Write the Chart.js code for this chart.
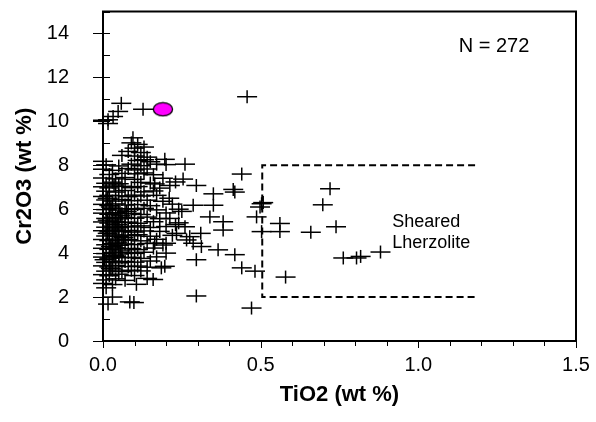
<!DOCTYPE html>
<html><head><meta charset="utf-8">
<script src="https://cdn.jsdelivr.net/npm/chart.js@4/dist/chart.umd.min.js"></script>
<style>html,body{margin:0;padding:0;background:#fff}#wrap{width:596px;height:422px}</style>
</head><body><div id="wrap"><canvas id="c" width="596" height="422"></canvas></div>
<script>
// ---- data (wt %) ----
const tio2 = [
0.058,0.127,0.457,0.048,0.032,0.016,0.000,0.016,0.095,0.260,
0.196,0.170,0.440,0.254,0.296,0.413,0.212,0.418,0.350,0.350,
0.286,0.503,0.498,0.487,0.561,0.561,0.503,0.381,0.381,0.339,
0.212,0.233,0.275,0.286,0.312,0.365,0.418,0.296,0.265,0.440,
0.482,0.579,0.296,0.471,0.085,0.098,0.016,0.106,0.159,0.196,
0.185,0.200,0.164,0.200,0.170,0.164,0.720,0.697,0.739,0.659,
0.762,0.804,0.817,0.880,0.508,0.240,0.260,0.230,0.310,0.210,
0.250,0.140,0.030,
0.09,0.11,0.10,0.13,0.12,0.08,0.10,0.14,0.06,
0.00,0.11,0.13,0.15,0.01,0.05,0.09,0.12,0.20,
0.00,0.03,0.08,0.10,0.14,0.02,0.06,0.11,0.16,0.13,
0.00,0.04,0.07,0.10,0.19,0.01,0.03,0.05,0.12,0.15,0.23,
0.00,0.02,0.06,0.09,0.11,0.18,0.01,0.04,0.07,0.13,0.16,
0.00,0.02,0.05,0.08,0.10,0.12,0.01,0.03,0.06,0.09,0.14,0.19,
0.00,0.02,0.04,0.07,0.11,0.15,0.22,0.01,0.03,0.05,0.08,0.10,0.13,0.17,
0.00,0.02,0.04,0.06,0.09,0.12,0.20,0.01,0.03,0.05,0.07,0.10,0.14,0.18,
0.00,0.02,0.04,0.06,0.08,0.11,0.16,0.24,0.01,0.03,0.05,0.07,0.09,0.12,0.15,0.20,
0.00,0.02,0.04,0.06,0.08,0.10,0.13,0.18,0.01,0.03,0.05,0.07,0.09,0.11,0.15,0.22,
0.00,0.02,0.04,0.06,0.08,0.12,0.17,0.01,0.03,0.05,0.07,0.10,0.14,0.19,
0.00,0.02,0.04,0.06,0.09,0.11,0.16,0.01,0.03,0.05,0.08,0.10,0.13,
0.00,0.02,0.04,0.06,0.09,0.12,0.17,0.01,0.03,0.05,0.07,0.10,0.15,
0.00,0.02,0.04,0.08,0.11,0.14,0.01,0.03,0.06,0.09,0.12,
0.00,0.02,0.05,0.10,0.01,0.04,0.07,0.00,0.03,0.01,
0.015,0.035,0.025,0.045,0.015,0.035,0.055,0.025,0.045,0.005,0.065,0.015,0.035,0.055,0.025,0.075
];
const cr2o3 = [
10.82,10.55,11.12,10.45,10.22,10.07,10.05,9.90,9.25,8.05,
8.27,8.05,7.60,7.37,7.08,6.90,7.08,6.78,6.70,6.18,
6.18,6.25,6.10,5.65,5.35,4.98,4.98,5.43,5.05,5.65,
5.58,4.90,4.75,4.45,4.30,4.15,3.93,3.70,4.60,3.33,
3.18,2.91,2.05,1.50,1.78,1.75,1.68,2.58,2.80,3.40,
3.33,4.00,4.45,4.45,6.63,7.15,6.93,6.20,5.20,4.95,
3.78,3.78,3.85,4.05,6.30,6.00,5.20,5.30,4.90,6.50,
5.90,2.85,2.00,
9.02,8.95,8.78,8.83,8.58,8.63,8.42,8.37,8.45,
8.18,8.22,8.25,8.16,8.02,7.97,8.05,7.98,8.03,
7.82,7.77,7.85,7.79,7.83,7.58,7.63,7.61,7.57,7.65,
7.42,7.38,7.44,7.36,7.41,7.18,7.23,7.16,7.22,7.19,7.24,
7.02,6.97,7.04,6.98,7.03,6.96,6.82,6.78,6.85,6.79,6.83,
6.58,6.63,6.61,6.57,6.64,6.60,6.42,6.37,6.44,6.39,6.41,6.36,
6.22,6.17,6.24,6.19,6.21,6.16,6.23,5.98,6.03,5.96,6.02,5.99,6.04,5.97,
5.82,5.77,5.84,5.79,5.81,5.76,5.83,5.58,5.63,5.56,5.62,5.59,5.64,5.57,
5.42,5.37,5.44,5.39,5.41,5.36,5.43,5.38,5.18,5.23,5.16,5.22,5.19,5.24,5.17,5.21,
5.02,4.97,5.04,4.98,5.03,4.96,5.01,4.99,4.78,4.83,4.76,4.82,4.79,4.84,4.77,4.81,
4.62,4.57,4.64,4.59,4.61,4.56,4.63,4.38,4.43,4.36,4.42,4.39,4.44,4.37,
4.22,4.17,4.24,4.19,4.21,4.16,4.23,3.98,4.03,3.96,4.02,3.99,4.04,
3.82,3.77,3.84,3.79,3.81,3.76,3.83,3.58,3.63,3.56,3.62,3.59,3.64,
3.42,3.37,3.44,3.39,3.41,3.36,3.18,3.23,3.16,3.22,3.19,
3.02,2.97,3.04,2.98,2.78,2.83,2.76,2.62,2.57,2.42,
4.90,5.10,4.30,4.50,5.50,3.90,4.10,6.10,5.30,3.70,4.70,6.50,7.10,5.70,3.30,5.90
];
const highlightTiO2 = [0.19];
const highlightCr2O3 = [10.55];
const fieldTiO2 = [1.18, 0.505, 0.505, 1.18];
const fieldCr2O3 = [8, 8, 2, 2];
const xTickLabels = ['0.0', '0.5', '1.0', '1.5'];
const yTickLabels = ['0', '2', '4', '6', '8', '10', '12', '14'];
const countLabel = 'N = 272';
const fieldLabel = ['Sheared', 'Lherzolite'];

const FONT = "'Liberation Sans', Arial, sans-serif";
const pts = tio2.map((v, i) => ({x: v, y: cr2o3[i]}));
const hi = highlightTiO2.map((v, i) => ({x: v, y: highlightCr2O3[i]}));
const field = fieldTiO2.map((v, i) => ({x: v, y: fieldCr2O3[i]}));

function ellipseImg() {
  const c = document.createElement('canvas');
  c.width = 22; c.height = 16;
  const g = c.getContext('2d');
  g.beginPath(); g.ellipse(11, 8, 9.6, 6.6, 0, 0, Math.PI * 2);
  g.fillStyle = '#ff00ff'; g.fill();
  g.lineWidth = 1.3; g.strokeStyle = '#000'; g.stroke();
  return c;
}
function noPad(s) { s.paddingTop = 0; s.paddingBottom = 0; s.paddingLeft = 0; s.paddingRight = 0; }

const frame = {
  id: 'frame',
  afterDraw(chart) {
    const ctx = chart.ctx, a = chart.chartArea, xs = chart.scales.x, ys = chart.scales.y;
    ctx.save();
    ctx.strokeStyle = '#000';
    ctx.lineWidth = 1;
    for (let i = 0; i <= 15; i++) {
      const y = Math.round(ys.getPixelForValue(i)) + 0.5;
      const major = i % 2 === 0;
      ctx.beginPath(); ctx.moveTo(a.left - (major ? 10 : 0), y); ctx.lineTo(a.left + 7, y); ctx.stroke();
    }
    for (let i = 0; i <= 15; i++) {
      const x = Math.round(xs.getPixelForValue(i / 10)) + 0.5;
      const len = i % 5 === 0 ? 7 : 5;
      ctx.beginPath(); ctx.moveTo(x, a.bottom); ctx.lineTo(x, a.bottom + len); ctx.stroke();
    }
    ctx.lineWidth = 2;
    ctx.strokeRect(a.left, a.top, a.right - a.left, a.bottom - a.top);
    ctx.fillStyle = '#000';
    ctx.font = '20px ' + FONT;
    ctx.textAlign = 'center'; ctx.textBaseline = 'middle';
    ctx.fillText(countLabel, xs.getPixelForValue(1.24), ys.getPixelForValue(13.4));
    ctx.font = '18px ' + FONT;
    ctx.textAlign = 'left';
    ctx.fillText(fieldLabel[0], xs.getPixelForValue(0.917), ys.getPixelForValue(5.43));
    ctx.fillText(fieldLabel[1], xs.getPixelForValue(0.917), ys.getPixelForValue(4.45));
    ctx.restore();
  }
};

new Chart(document.getElementById('c'), {
  type: 'scatter',
  data: {
    datasets: [
      {data: pts, pointStyle: 'line', pointRadius: 10, pointBorderWidth: 1.5, pointBorderColor: '#000', pointBackgroundColor: '#000', showLine: false, clip: false},
      {data: pts, pointStyle: 'line', rotation: 90, pointRadius: 6.5, pointBorderWidth: 1.5, pointBorderColor: '#000', pointBackgroundColor: '#000', showLine: false, clip: false},
      {data: field, showLine: true, borderColor: '#000', borderWidth: 2, borderDash: [7, 4], pointRadius: 0, fill: false, tension: 0, clip: false},
      {data: hi, pointStyle: ellipseImg(), pointRadius: 10, showLine: false, clip: false}
    ]
  },
  options: {
    responsive: false,
    animation: false,
    events: [],
    layout: {padding: {top: 7, right: 20, left: 0, bottom: 0}},
    plugins: {legend: {display: false}, tooltip: {enabled: false}},
    scales: {
      x: {
        type: 'linear', min: 0, max: 1.5,
        grid: {display: false, drawTicks: false},
        border: {display: false},
        afterFit(s) { s.height = 81; noPad(s); },
        ticks: {
          stepSize: 0.1, autoSkip: false, maxRotation: 0, padding: 12,
          color: '#000', font: {family: FONT, size: 20},
          callback(v) { const k = Math.round(v * 2); return Math.abs(v * 2 - k) < 1e-6 ? xTickLabels[k] : ''; }
        },
        title: {display: true, text: 'TiO2 (wt %)', color: '#000', font: {family: FONT, size: 22, weight: 'bold'}, padding: {top: 0, bottom: 14}}
      },
      y: {
        type: 'linear', min: 0, max: 15,
        grid: {display: false, drawTicks: false},
        border: {display: false},
        afterFit(s) { s.width = 103; noPad(s); },
        ticks: {
          stepSize: 1, autoSkip: false, padding: 34,
          color: '#000', font: {family: FONT, size: 20},
          callback(v) { return (Number.isInteger(v) && v % 2 === 0) ? yTickLabels[v / 2] : ''; }
        },
        title: {display: true, text: 'Cr2O3 (wt %)', color: '#000', font: {family: FONT, size: 22, weight: 'bold'}, padding: {top: 12, bottom: 0}}
      }
    }
  },
  plugins: [frame]
});
</script>
</body></html>
